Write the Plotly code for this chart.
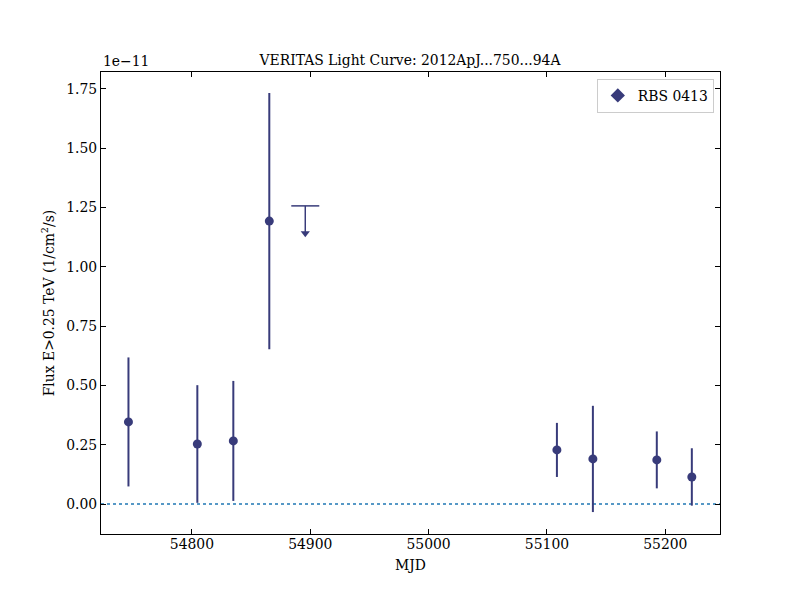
import plotly.graph_objects as go

# Data (flux in units of 1e-11 1/cm^2/s)
mjd = [54746.4, 54804.6, 54835.0, 54865.4, 55108.4, 55138.8, 55192.8, 55222.4]
flux = [0.346, 0.253, 0.266, 1.193, 0.228, 0.190, 0.186, 0.114]
flux_err = [0.272, 0.248, 0.253, 0.540, 0.114, 0.224, 0.120, 0.121]

ul_mjd = [54895.8]
ul_flux = [1.257]
UL_ARROW = 0.115

x_ticks = [54800, 54900, 55000, 55100, 55200]
y_ticks = [0.0, 0.25, 0.5, 0.75, 1.0, 1.25, 1.5, 1.75]

color = "#383b7a"
font = "DejaVu Serif"
fs = 13.9

fig = go.Figure()

fig.add_trace(go.Scatter(
    x=mjd, y=flux, mode="markers",
    marker=dict(color=color, size=9),
    error_y=dict(type="data", array=flux_err, color=color, thickness=2, width=0),
    showlegend=False,
))

# Upper limit: cap, stem, arrowhead
fig.add_trace(go.Scatter(
    x=ul_mjd, y=ul_flux, mode="markers",
    marker=dict(symbol="line-ew", size=20, line=dict(color=color, width=1.5)),
    error_y=dict(type="data", array=[0], arrayminus=[UL_ARROW], color=color, thickness=1.5, width=0),
    showlegend=False,
))
fig.add_trace(go.Scatter(
    x=ul_mjd, y=[v - UL_ARROW for v in ul_flux], mode="markers",
    marker=dict(symbol="triangle-down", size=8, color=color),
    showlegend=False,
))

# Legend entry
fig.add_trace(go.Scatter(
    x=[None], y=[None], mode="markers", name="RBS 0413",
    marker=dict(symbol="diamond", size=11, color=color),
))

fig.add_shape(type="line", xref="paper", x0=0, x1=1, yref="y", y0=0, y1=0,
              line=dict(color="#1f77b4", width=1.5, dash="dot"), layer="below")

axis_common = dict(
    showline=True, linecolor="black", linewidth=1, mirror="ticks",
    ticks="inside", ticklen=5, tickwidth=1, tickcolor="black",
    showgrid=False, zeroline=False,
    tickfont=dict(family=font, size=fs, color="black"),
)

fig.update_layout(
    width=800, height=600,
    margin=dict(l=101, r=80, t=72, b=66),
    paper_bgcolor="white", plot_bgcolor="white",
    font=dict(family=font, size=fs, color="black"),
    title=dict(text="VERITAS Light Curve: 2012ApJ...750...94A", x=0.5125, xanchor="center",
               y=1 - 60 / 600, yanchor="middle", font=dict(family=font, size=fs, color="black")),
    xaxis=dict(range=[54723.2, 55246.2], tickvals=x_ticks, ticktext=[str(v) for v in x_ticks],
               ticklabelstandoff=-3,
               title=dict(text="MJD", standoff=9, font=dict(family=font, size=fs)), **axis_common),
    yaxis=dict(range=[-0.1265, 1.8215], tickvals=y_ticks, ticktext=[f"{v:.2f}" for v in y_ticks],
               title=dict(text="Flux E>0.25 TeV (1/cm<sup>2</sup>/s)", standoff=8,
                          font=dict(family=font, size=fs)), **axis_common),
    legend=dict(x=0.99, xanchor="right", y=0.985, yanchor="top",
                bgcolor="white", bordercolor="#cccccc", borderwidth=1,
                font=dict(family=font, size=fs)),
    annotations=[dict(text="1e\u221211", xref="paper", yref="paper", x=0, y=1,
                      xanchor="left", yanchor="bottom", yshift=1, showarrow=False,
                      font=dict(family=font, size=fs, color="black"))],
)

fig.write_html("out.html")
